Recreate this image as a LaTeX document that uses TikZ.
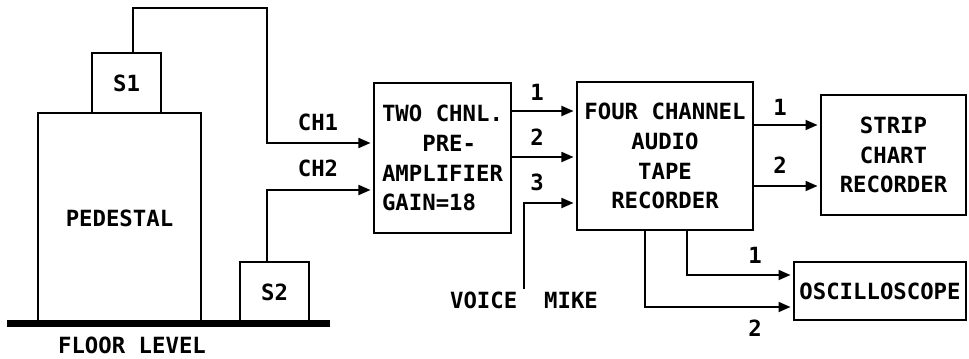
\documentclass[tikz,border=0pt]{standalone}
\usepackage{fontspec}
\setmonofont{DejaVu Sans Mono}
\usepackage{tikz}
\usetikzlibrary{arrows.meta,positioning,calc}

\begin{document}
\begin{tikzpicture}[x=0.02cm,y=-0.02cm,
			blk/.style={draw,line width=1pt,inner sep=0pt,font=\ttfamily\bfseries\fontsize{12.7}{17}\selectfont},
			lbl/.style={inner sep=1pt,font=\ttfamily\bfseries\fontsize{12.7}{17}\selectfont},
			arr/.style={-{Triangle[length=0.24cm,width=0.2cm]},line width=1pt,shorten >=1.5pt}
			]
			\useasboundingbox (0,0) rectangle (969,358);
			% left side: pedestal and sensors
			\node[blk,minimum width=163*0.02cm,minimum height=210*0.02cm] (ped) at (119.5,218) {PEDESTAL};
			\node[blk,minimum width=69*0.02cm,minimum height=60*0.02cm] (s1) at (126.5,83) {S1};
			\node[blk,minimum width=69*0.02cm,minimum height=60*0.02cm] (s2) at (274.5,292) {S2};
			\draw[line width=0.14cm] (7,323) -- (330,323);
			\node[lbl] (floor) at (132,345) {FLOOR~LEVEL};
			% instruments
			\node[blk,align=left,minimum width=137*0.02cm,minimum height=150*0.02cm] (pre) at (442.5,158) {TWO~CHNL.\\~~~PRE-\\AMPLIFIER\\GAIN=18};
			\node[blk,align=center,minimum width=176*0.02cm,minimum height=148*0.02cm] (tape) at (665,156) {FOUR CHANNEL\\AUDIO\\TAPE\\RECORDER};
			\node[blk,align=center,minimum width=145*0.02cm,minimum height=120*0.02cm] (strip) at (893.5,155) {STRIP\\CHART\\RECORDER};
			\node[blk,minimum width=172*0.02cm,minimum height=58*0.02cm] (osc) at (880,291) {OSCILLOSCOPE};
			\node[lbl] (mike) at (524,300) {VOICE~~MIKE};
			% wiring
			\draw[arr] ($(s1.north)+(6.5,0)$) |- ++(134,-44) |- ($(pre.west)+(0,-15)$);
			\draw[arr] ($(s2.north)+(-7.5,0)$) |- ($(pre.west)+(0,32)$);
			\node[lbl] (ch1) at (318,122) {CH1};
			\node[lbl] (ch2) at (318,168) {CH2};
			\draw[arr] ($(pre.east)+(0,-47)$) -- ($(tape.west)+(0,-45)$);
			\draw[arr] ($(pre.east)+(0,-1)$) -- ($(tape.west)+(0,1)$);
			\draw[arr] (mike.north) |- ($(tape.west)+(0,47)$);
			\node[lbl] (n1) at (537,92) {1};
			\node[lbl] (n2) at (537,137) {2};
			\node[lbl] (n3) at (537,182) {3};
			\draw[arr] ($(tape.east)+(0,-31)$) -- ($(strip.west)+(0,-30)$);
			\draw[arr] ($(tape.east)+(0,30)$) -- ($(strip.west)+(0,31)$);
			\node[lbl] (m1) at (780,107) {1};
			\node[lbl] (m2) at (780,165) {2};
			\draw[arr] ($(tape.south)+(22,0)$) |- ($(osc.west)+(0,-16)$);
			\draw[arr] ($(tape.south)+(-20,0)$) |- ($(osc.west)+(0,16)$);
			\node[lbl] (k1) at (755,255) {1};
			\node[lbl] (k2) at (755,328) {2};
		\end{tikzpicture}
\end{document}
